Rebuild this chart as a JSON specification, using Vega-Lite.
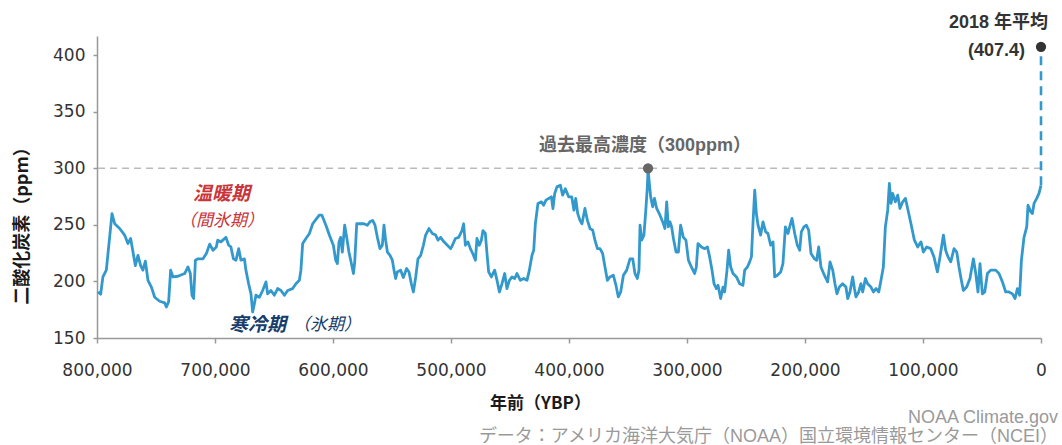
{
  "$schema": "https://vega.github.io/schema/vega-lite/v6.json",
  "width": 944,
  "height": 302,
  "autosize": {"type": "none"},
  "padding": {"left": 97, "top": 36, "right": 21, "bottom": 107},
  "background": "white",
  "config": {
    "view": {"stroke": null},
    "font": "Liberation Sans, Noto Sans CJK JP",
    "axis": {
      "grid": false,
      "domainColor": "#999999",
      "domainWidth": 1.5,
      "tickColor": "#999999",
      "tickWidth": 1.5,
      "labelFont": "DejaVu Sans",
      "labelFontSize": 17,
      "labelColor": "#333333",
      "labelFlush": false,
      "titleFont": "Noto Sans CJK JP",
      "titleFontWeight": "bold",
      "titleColor": "#1a1a1a"
    }
  },
  "title": {
    "text": ["NOAA Climate.gov", "データ：アメリカ海洋大気庁（NOAA）国立環境情報センター（NCEI）"],
    "orient": "bottom",
    "anchor": "end",
    "frame": "group",
    "font": "Liberation Sans, Noto Sans CJK JP",
    "fontSize": 18,
    "fontWeight": "normal",
    "color": "#9a9a9a",
    "lineHeight": 19,
    "dx": 17,
    "offset": -2
  },
  "datasets": {
    "co2": [
      {"ybp":799200,"ppm":190.7},{"ybp":796900,"ppm":188.7},{"ybp":795000,"ppm":204},{"ybp":792100,"ppm":210},{"ybp":789300,"ppm":239},{"ybp":787300,"ppm":260},{"ybp":785000,"ppm":251},{"ybp":780800,"ppm":246.8},{"ybp":776600,"ppm":241},{"ybp":773800,"ppm":233.5},{"ybp":771500,"ppm":238},{"ybp":769500,"ppm":226},{"ybp":767500,"ppm":214},{"ybp":765300,"ppm":223},{"ybp":763000,"ppm":214},{"ybp":761100,"ppm":210},{"ybp":759000,"ppm":218},{"ybp":756800,"ppm":201},{"ybp":753900,"ppm":195},{"ybp":751100,"ppm":186},{"ybp":746900,"ppm":182.5},{"ybp":742600,"ppm":181},{"ybp":741200,"ppm":177.4},{"ybp":739300,"ppm":182},{"ybp":737600,"ppm":210},{"ybp":735600,"ppm":204},{"ybp":731400,"ppm":204.6},{"ybp":725700,"ppm":207},{"ybp":722900,"ppm":212.8},{"ybp":720900,"ppm":207},{"ybp":719500,"ppm":187.8},{"ybp":718100,"ppm":185},{"ybp":716600,"ppm":218.8},{"ybp":714400,"ppm":220},{"ybp":710200,"ppm":220},{"ybp":707300,"ppm":224.7},{"ybp":704500,"ppm":233},{"ybp":701700,"ppm":227.6},{"ybp":698900,"ppm":230.5},{"ybp":697700,"ppm":236.5},{"ybp":695000,"ppm":235},{"ybp":690700,"ppm":239},{"ybp":688400,"ppm":232},{"ybp":686500,"ppm":230.5},{"ybp":684400,"ppm":220},{"ybp":682200,"ppm":218.8},{"ybp":679900,"ppm":229},{"ybp":678000,"ppm":218.8},{"ybp":675100,"ppm":220},{"ybp":673800,"ppm":210},{"ybp":671500,"ppm":198},{"ybp":669500,"ppm":189},{"ybp":668100,"ppm":173},{"ybp":666600,"ppm":180.4},{"ybp":665300,"ppm":187.8},{"ybp":662400,"ppm":186},{"ybp":659600,"ppm":192},{"ybp":656800,"ppm":199.6},{"ybp":655400,"ppm":189},{"ybp":652600,"ppm":192},{"ybp":649700,"ppm":187.8},{"ybp":646900,"ppm":193.7},{"ybp":644100,"ppm":192},{"ybp":641200,"ppm":187.8},{"ybp":638400,"ppm":192},{"ybp":634200,"ppm":193.7},{"ybp":631400,"ppm":198},{"ybp":628500,"ppm":201},{"ybp":627200,"ppm":210},{"ybp":625700,"ppm":233.5},{"ybp":622900,"ppm":238},{"ybp":620000,"ppm":242.4},{"ybp":617200,"ppm":251},{"ybp":614400,"ppm":254.8},{"ybp":611600,"ppm":258.6},{"ybp":609400,"ppm":258.6},{"ybp":606000,"ppm":249.7},{"ybp":603100,"ppm":241},{"ybp":600300,"ppm":233.5},{"ybp":599700,"ppm":232},{"ybp":597700,"ppm":218.8},{"ybp":596300,"ppm":215.8},{"ybp":594900,"ppm":235},{"ybp":593500,"ppm":239},{"ybp":592100,"ppm":226},{"ybp":590100,"ppm":249.7},{"ybp":588400,"ppm":239},{"ybp":586500,"ppm":226},{"ybp":584400,"ppm":215.8},{"ybp":582700,"ppm":207},{"ybp":581600,"ppm":217},{"ybp":579900,"ppm":251},{"ybp":576500,"ppm":251},{"ybp":573800,"ppm":251},{"ybp":570900,"ppm":249.7},{"ybp":568700,"ppm":252.7},{"ybp":566400,"ppm":254},{"ybp":564400,"ppm":249.7},{"ybp":562400,"ppm":239},{"ybp":560200,"ppm":229},{"ybp":558200,"ppm":232},{"ybp":556800,"ppm":249.7},{"ybp":555400,"ppm":236.5},{"ybp":553900,"ppm":226},{"ybp":551700,"ppm":223},{"ybp":549700,"ppm":218.8},{"ybp":548300,"ppm":210},{"ybp":546900,"ppm":202.6},{"ybp":545500,"ppm":208.4},{"ybp":542700,"ppm":210},{"ybp":540400,"ppm":203.5},{"ybp":537600,"ppm":211.4},{"ybp":535600,"ppm":208.4},{"ybp":533600,"ppm":198},{"ybp":531900,"ppm":190.7},{"ybp":529900,"ppm":204},{"ybp":528000,"ppm":220},{"ybp":525700,"ppm":223},{"ybp":523400,"ppm":232},{"ybp":521500,"ppm":241},{"ybp":518700,"ppm":246.8},{"ybp":515800,"ppm":242.4},{"ybp":513000,"ppm":241},{"ybp":511000,"ppm":236.5},{"ybp":508800,"ppm":239},{"ybp":506000,"ppm":235},{"ybp":503100,"ppm":232},{"ybp":500300,"ppm":229},{"ybp":499200,"ppm":231},{"ybp":496300,"ppm":238},{"ybp":493500,"ppm":239},{"ybp":490700,"ppm":245},{"ybp":489300,"ppm":251},{"ybp":487800,"ppm":232},{"ybp":485600,"ppm":235},{"ybp":483600,"ppm":229},{"ybp":481600,"ppm":224.7},{"ybp":479300,"ppm":218.8},{"ybp":478000,"ppm":238},{"ybp":476000,"ppm":232},{"ybp":474300,"ppm":236.5},{"ybp":472900,"ppm":245},{"ybp":470900,"ppm":242.4},{"ybp":469500,"ppm":224.7},{"ybp":468100,"ppm":208.4},{"ybp":465800,"ppm":204},{"ybp":463000,"ppm":210},{"ybp":461000,"ppm":201},{"ybp":459000,"ppm":190.7},{"ybp":456800,"ppm":198},{"ybp":454500,"ppm":207},{"ybp":452600,"ppm":193.7},{"ybp":450500,"ppm":201},{"ybp":448300,"ppm":204},{"ybp":446000,"ppm":202.6},{"ybp":444100,"ppm":207},{"ybp":441200,"ppm":201},{"ybp":438400,"ppm":202.6},{"ybp":435600,"ppm":201},{"ybp":433600,"ppm":210},{"ybp":431400,"ppm":223},{"ybp":429900,"ppm":227.6},{"ybp":428500,"ppm":251},{"ybp":426300,"ppm":269},{"ybp":423400,"ppm":270.4},{"ybp":421500,"ppm":267.4},{"ybp":419500,"ppm":271.9},{"ybp":417200,"ppm":273.4},{"ybp":414900,"ppm":274.8},{"ybp":413600,"ppm":264.5},{"ybp":412100,"ppm":277.8},{"ybp":410200,"ppm":283.6},{"ybp":407300,"ppm":285},{"ybp":405400,"ppm":276.3},{"ybp":403100,"ppm":282},{"ybp":400300,"ppm":274.8},{"ybp":397700,"ppm":274.8},{"ybp":395800,"ppm":263},{"ybp":394300,"ppm":273.4},{"ybp":392600,"ppm":260},{"ybp":390700,"ppm":254},{"ybp":389000,"ppm":251},{"ybp":386500,"ppm":264.5},{"ybp":384400,"ppm":254},{"ybp":382200,"ppm":246.8},{"ybp":379900,"ppm":245.3},{"ybp":378000,"ppm":236.5},{"ybp":375900,"ppm":229},{"ybp":373700,"ppm":229},{"ybp":371500,"ppm":224.7},{"ybp":369500,"ppm":212.8},{"ybp":367500,"ppm":201},{"ybp":365300,"ppm":204},{"ybp":362400,"ppm":205.5},{"ybp":360200,"ppm":196.6},{"ybp":358200,"ppm":186.3},{"ybp":356200,"ppm":190.7},{"ybp":353900,"ppm":205.5},{"ybp":351100,"ppm":210},{"ybp":348300,"ppm":220},{"ybp":346000,"ppm":220},{"ybp":344100,"ppm":207},{"ybp":342100,"ppm":202.6},{"ybp":340700,"ppm":210},{"ybp":339800,"ppm":249.7},{"ybp":338400,"ppm":236.5},{"ybp":336500,"ppm":241},{"ybp":335000,"ppm":261.5},{"ybp":333600,"ppm":283.6},{"ybp":333000,"ppm":299},{"ybp":331900,"ppm":286.6},{"ybp":330800,"ppm":274.8},{"ybp":329100,"ppm":266},{"ybp":327600,"ppm":273.4},{"ybp":325700,"ppm":264.5},{"ybp":322900,"ppm":258.6},{"ybp":320000,"ppm":251},{"ybp":318700,"ppm":246.8},{"ybp":317200,"ppm":270.4},{"ybp":315800,"ppm":248.2},{"ybp":314400,"ppm":252.7},{"ybp":313000,"ppm":248.2},{"ybp":311500,"ppm":238},{"ybp":309300,"ppm":226},{"ybp":307300,"ppm":226},{"ybp":305400,"ppm":249.7},{"ybp":303100,"ppm":239},{"ybp":300900,"ppm":236.5},{"ybp":298800,"ppm":218.8},{"ybp":296300,"ppm":212.8},{"ybp":293500,"ppm":207},{"ybp":292100,"ppm":212.8},{"ybp":290700,"ppm":233.5},{"ybp":287800,"ppm":230.5},{"ybp":285000,"ppm":229},{"ybp":282700,"ppm":230.5},{"ybp":280800,"ppm":221.7},{"ybp":278800,"ppm":210},{"ybp":277100,"ppm":198},{"ybp":275100,"ppm":193.7},{"ybp":273700,"ppm":196.6},{"ybp":271500,"ppm":184.9},{"ybp":269500,"ppm":195},{"ybp":268100,"ppm":190.7},{"ybp":266100,"ppm":210},{"ybp":264700,"ppm":227.6},{"ybp":263000,"ppm":212.8},{"ybp":261000,"ppm":207},{"ybp":258100,"ppm":204},{"ybp":255400,"ppm":198},{"ybp":252600,"ppm":196.6},{"ybp":251100,"ppm":210},{"ybp":248800,"ppm":212.8},{"ybp":246900,"ppm":217.3},{"ybp":245400,"ppm":221.7},{"ybp":244100,"ppm":251},{"ybp":242600,"ppm":280.7},{"ybp":241200,"ppm":260},{"ybp":239800,"ppm":249.7},{"ybp":237600,"ppm":241},{"ybp":235600,"ppm":252.7},{"ybp":233300,"ppm":243.8},{"ybp":231400,"ppm":242.4},{"ybp":229100,"ppm":232},{"ybp":227100,"ppm":235},{"ybp":225700,"ppm":204},{"ybp":223400,"ppm":205.5},{"ybp":220600,"ppm":208.4},{"ybp":218700,"ppm":215.8},{"ybp":216600,"ppm":248.2},{"ybp":214400,"ppm":242.4},{"ybp":213000,"ppm":248.2},{"ybp":211000,"ppm":255.7},{"ybp":208700,"ppm":242.4},{"ybp":206500,"ppm":232},{"ybp":204500,"ppm":227.6},{"ybp":203100,"ppm":243.8},{"ybp":200900,"ppm":248.2},{"ybp":198800,"ppm":249.7},{"ybp":196900,"ppm":245.3},{"ybp":194900,"ppm":224.7},{"ybp":192000,"ppm":220},{"ybp":190100,"ppm":218.8},{"ybp":188400,"ppm":230.5},{"ybp":186500,"ppm":212.8},{"ybp":183600,"ppm":205.5},{"ybp":180800,"ppm":199.6},{"ybp":178800,"ppm":217.3},{"ybp":176500,"ppm":210},{"ybp":174600,"ppm":198},{"ybp":172900,"ppm":189},{"ybp":170900,"ppm":195},{"ybp":168100,"ppm":198},{"ybp":165300,"ppm":195},{"ybp":163800,"ppm":184.9},{"ybp":161900,"ppm":190.7},{"ybp":159600,"ppm":204},{"ybp":158100,"ppm":193.7},{"ybp":156800,"ppm":186.3},{"ybp":154500,"ppm":190.7},{"ybp":152600,"ppm":198},{"ybp":151100,"ppm":190.7},{"ybp":148800,"ppm":202.6},{"ybp":146900,"ppm":198},{"ybp":144100,"ppm":195},{"ybp":142000,"ppm":190.7},{"ybp":139800,"ppm":193.7},{"ybp":137500,"ppm":190.7},{"ybp":135600,"ppm":201},{"ybp":133600,"ppm":212.8},{"ybp":131900,"ppm":248.2},{"ybp":129900,"ppm":263},{"ybp":128500,"ppm":286.6},{"ybp":127100,"ppm":269},{"ybp":125700,"ppm":277.8},{"ybp":123400,"ppm":270.4},{"ybp":121400,"ppm":276.3},{"ybp":119500,"ppm":264.5},{"ybp":117200,"ppm":270.4},{"ybp":114900,"ppm":273.4},{"ybp":113000,"ppm":264.5},{"ybp":110200,"ppm":251},{"ybp":107300,"ppm":236.5},{"ybp":104500,"ppm":230.5},{"ybp":101700,"ppm":235},{"ybp":99700,"ppm":226},{"ybp":96900,"ppm":230.5},{"ybp":93500,"ppm":229},{"ybp":90700,"ppm":221.7},{"ybp":87800,"ppm":208.4},{"ybp":85600,"ppm":221.7},{"ybp":82700,"ppm":241},{"ybp":80800,"ppm":227.6},{"ybp":78800,"ppm":221.7},{"ybp":76500,"ppm":217.3},{"ybp":73700,"ppm":229},{"ybp":71400,"ppm":226},{"ybp":69500,"ppm":212.8},{"ybp":67500,"ppm":201},{"ybp":65800,"ppm":192},{"ybp":63000,"ppm":195},{"ybp":60200,"ppm":202.6},{"ybp":57300,"ppm":220},{"ybp":55300,"ppm":207},{"ybp":53400,"ppm":190.7},{"ybp":51700,"ppm":215.8},{"ybp":49700,"ppm":189},{"ybp":47700,"ppm":190.7},{"ybp":45400,"ppm":207},{"ybp":42600,"ppm":210},{"ybp":38400,"ppm":210},{"ybp":35600,"ppm":207},{"ybp":32700,"ppm":199.6},{"ybp":29900,"ppm":190.7},{"ybp":27100,"ppm":190.7},{"ybp":24200,"ppm":189},{"ybp":22000,"ppm":184.9},{"ybp":20000,"ppm":193.7},{"ybp":18100,"ppm":187.8},{"ybp":16600,"ppm":218.8},{"ybp":14400,"ppm":239},{"ybp":12100,"ppm":248.2},{"ybp":11000,"ppm":267.4},{"ybp":8700,"ppm":261.5},{"ybp":7300,"ppm":260},{"ybp":5900,"ppm":269},{"ybp":3600,"ppm":273.4},{"ybp":1700,"ppm":277.8},{"ybp":0,"ppm":285}
    ],
    "rise": [{"ybp": 0, "ppm": 285, "ppm2": 407.4}],
    "marks": [
      {"ybp": 333000, "ppm": 300, "kind": "past"},
      {"ybp": 0, "ppm": 407.4, "kind": "now"}
    ]
  },
  "layer": [
    {
      "data": {"values": [{"ppm": 300}]},
      "mark": {"type": "rule", "color": "#bbbbbb", "strokeWidth": 1.5, "strokeDash": [7, 5]},
      "encoding": {
        "y": {"field": "ppm", "type": "quantitative", "scale": {"domain": [150, 417], "nice": false, "zero": false}}
      }
    },
    {
      "data": {"name": "co2"},
      "mark": {"type": "line", "color": "#3399cc", "strokeWidth": 2.8, "strokeJoin": "round"},
      "encoding": {
        "x": {
          "field": "ybp", "type": "quantitative",
          "scale": {"domain": [0, 800000], "reverse": true, "nice": false, "zero": false},
          "axis": {
            "values": [0, 100000, 200000, 300000, 400000, 500000, 600000, 700000, 800000],
            "format": ",d",
            "tickSize": 5,
            "labelPadding": 19,
            "title": "年前（YBP）",
            "titleFontSize": 17,
            "titleX": 443,
            "titleY": 65,
            "titleAlign": "center",
            "titleBaseline": "middle"
          }
        },
        "y": {
          "field": "ppm", "type": "quantitative",
          "scale": {"domain": [150, 417], "nice": false, "zero": false},
          "axis": {
            "values": [150, 200, 250, 300, 350, 400],
            "tickSize": 4,
            "labelPadding": 8,
            "title": "二酸化炭素（ppm）",
            "titleFontSize": 18,
            "titleX": -75,
            "titleY": 185,
            "titleAngle": 270,
            "titleAlign": "center",
            "titleBaseline": "middle"
          }
        }
      }
    },
    {
      "data": {"name": "rise"},
      "mark": {"type": "rule", "color": "#3399cc", "strokeWidth": 2.6, "strokeDash": [9, 6]},
      "encoding": {
        "x": {"field": "ybp", "type": "quantitative", "scale": {"domain": [0, 800000], "reverse": true, "nice": false, "zero": false}},
        "y": {"field": "ppm", "type": "quantitative", "scale": {"domain": [150, 417], "nice": false, "zero": false}},
        "y2": {"field": "ppm2"}
      }
    },
    {
      "data": {"name": "marks"},
      "mark": {"type": "point", "filled": true, "opacity": 1, "size": 105},
      "encoding": {
        "x": {"field": "ybp", "type": "quantitative", "scale": {"domain": [0, 800000], "reverse": true, "nice": false, "zero": false}},
        "y": {"field": "ppm", "type": "quantitative", "scale": {"domain": [150, 417], "nice": false, "zero": false}},
        "color": {"field": "kind", "type": "nominal", "scale": {"domain": ["past", "now"], "range": ["#666666", "#333333"]}, "legend": null}
      }
    },
    {
      "data": {"values": [{"ybp": 0, "ppm": 407.4, "label": "2018 年平均"}]},
      "mark": {"type": "text", "align": "right", "baseline": "middle", "dx": 7, "dy": -24, "fontSize": 18, "fontWeight": "bold", "color": "#333333"},
      "encoding": {
        "x": {"field": "ybp", "type": "quantitative"},
        "y": {"field": "ppm", "type": "quantitative"},
        "text": {"field": "label"}
      }
    },
    {
      "data": {"values": [{"ybp": 0, "ppm": 407.4, "label": "(407.4)"}]},
      "mark": {"type": "text", "align": "right", "baseline": "middle", "dx": -16, "dy": 4, "fontSize": 18, "fontWeight": "bold", "color": "#333333"},
      "encoding": {
        "x": {"field": "ybp", "type": "quantitative"},
        "y": {"field": "ppm", "type": "quantitative"},
        "text": {"field": "label"}
      }
    },
    {
      "data": {"values": [{"ybp": 333000, "ppm": 300, "label": "過去最高濃度（300ppm）"}]},
      "mark": {"type": "text", "align": "center", "baseline": "middle", "dx": -3, "dy": -22, "fontSize": 18, "fontWeight": "bold", "color": "#666666"},
      "encoding": {
        "x": {"field": "ybp", "type": "quantitative"},
        "y": {"field": "ppm", "type": "quantitative"},
        "text": {"field": "label"}
      }
    },
    {
      "data": {"values": [{"ybp": 694400, "ppm": 277, "label": "温暖期"}]},
      "mark": {"type": "text", "align": "center", "baseline": "middle", "fontSize": 19, "fontWeight": "bold", "fontStyle": "italic", "color": "#c9353b"},
      "encoding": {
        "x": {"field": "ybp", "type": "quantitative"},
        "y": {"field": "ppm", "type": "quantitative"},
        "text": {"field": "label"}
      }
    },
    {
      "data": {"values": [{"ybp": 694400, "ppm": 253.3, "label": "（間氷期）"}]},
      "mark": {"type": "text", "align": "center", "baseline": "middle", "fontSize": 17, "fontStyle": "italic", "color": "#c9353b"},
      "encoding": {
        "x": {"field": "ybp", "type": "quantitative"},
        "y": {"field": "ppm", "type": "quantitative"},
        "text": {"field": "label"}
      }
    },
    {
      "data": {"values": [{"ybp": 663900, "ppm": 161.2, "label": "寒冷期"}]},
      "mark": {"type": "text", "align": "center", "baseline": "middle", "fontSize": 19, "fontWeight": "bold", "fontStyle": "italic", "color": "#163d6b"},
      "encoding": {
        "x": {"field": "ybp", "type": "quantitative"},
        "y": {"field": "ppm", "type": "quantitative"},
        "text": {"field": "label"}
      }
    },
    {
      "data": {"values": [{"ybp": 605000, "ppm": 161.2, "label": "（氷期）"}]},
      "mark": {"type": "text", "align": "center", "baseline": "middle", "fontSize": 17, "fontStyle": "italic", "color": "#163d6b"},
      "encoding": {
        "x": {"field": "ybp", "type": "quantitative"},
        "y": {"field": "ppm", "type": "quantitative"},
        "text": {"field": "label"}
      }
    }
  ]
}
